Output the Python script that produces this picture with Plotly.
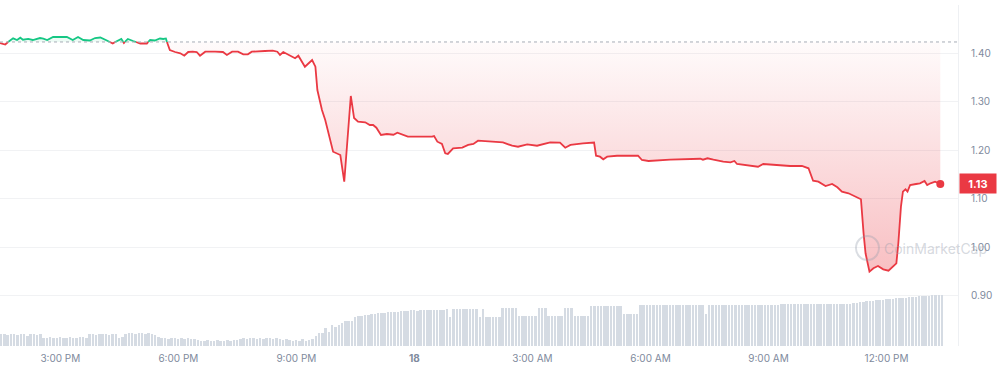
import plotly.graph_objects as go
import pandas as pd

# ---------------- data ----------------
open_price = 1.4238

price_times = [
    "2024-03-17 13:28", "2024-03-17 13:36", "2024-03-17 13:42", "2024-03-17 13:48", "2024-03-17 13:54",
    "2024-03-17 13:59", "2024-03-17 14:03", "2024-03-17 14:11", "2024-03-17 14:18", "2024-03-17 14:29",
    "2024-03-17 14:34", "2024-03-17 14:40", "2024-03-17 14:49", "2024-03-17 15:00", "2024-03-17 15:10",
    "2024-03-17 15:19", "2024-03-17 15:27", "2024-03-17 15:35", "2024-03-17 15:45", "2024-03-17 15:53",
    "2024-03-17 16:01", "2024-03-17 16:11", "2024-03-17 16:20", "2024-03-17 16:26", "2024-03-17 16:33",
    "2024-03-17 16:37", "2024-03-17 16:43", "2024-03-17 16:51", "2024-03-17 17:02", "2024-03-17 17:12",
    "2024-03-17 17:17", "2024-03-17 17:24", "2024-03-17 17:32", "2024-03-17 17:37", "2024-03-17 17:41",
    "2024-03-17 17:44", "2024-03-17 17:47", "2024-03-17 17:55", "2024-03-17 18:03", "2024-03-17 18:09",
    "2024-03-17 18:15", "2024-03-17 18:22", "2024-03-17 18:28", "2024-03-17 18:33", "2024-03-17 18:41",
    "2024-03-17 18:56", "2024-03-17 19:08", "2024-03-17 19:14", "2024-03-17 19:22", "2024-03-17 19:31",
    "2024-03-17 19:39", "2024-03-17 19:46", "2024-03-17 19:52", "2024-03-17 20:12", "2024-03-17 20:24",
    "2024-03-17 20:31", "2024-03-17 20:35", "2024-03-17 20:40", "2024-03-17 20:50", "2024-03-17 20:58",
    "2024-03-17 21:03", "2024-03-17 21:09", "2024-03-17 21:13", "2024-03-17 21:24", "2024-03-17 21:29",
    "2024-03-17 21:32", "2024-03-17 21:39", "2024-03-17 21:44", "2024-03-17 21:56", "2024-03-17 22:07",
    "2024-03-17 22:13", "2024-03-17 22:23", "2024-03-17 22:28", "2024-03-17 22:34", "2024-03-17 22:45",
    "2024-03-17 22:52", "2024-03-17 22:57", "2024-03-17 23:02", "2024-03-17 23:09", "2024-03-17 23:18",
    "2024-03-17 23:28", "2024-03-17 23:34", "2024-03-17 23:41", "2024-03-17 23:50",
    "2024-03-18 00:27", "2024-03-18 00:30", "2024-03-18 00:35", "2024-03-18 00:42", "2024-03-18 00:47",
    "2024-03-18 00:51", "2024-03-18 00:59", "2024-03-18 01:13", "2024-03-18 01:22", "2024-03-18 01:30",
    "2024-03-18 01:37", "2024-03-18 01:56", "2024-03-18 02:15", "2024-03-18 02:29", "2024-03-18 02:38",
    "2024-03-18 02:52", "2024-03-18 03:07", "2024-03-18 03:27", "2024-03-18 03:42", "2024-03-18 03:50",
    "2024-03-18 03:58", "2024-03-18 04:17", "2024-03-18 04:31", "2024-03-18 04:34", "2024-03-18 04:37",
    "2024-03-18 04:43", "2024-03-18 04:48", "2024-03-18 04:54", "2024-03-18 05:09", "2024-03-18 05:41",
    "2024-03-18 05:47", "2024-03-18 05:57", "2024-03-18 06:30", "2024-03-18 07:16", "2024-03-18 07:20",
    "2024-03-18 07:27", "2024-03-18 07:36", "2024-03-18 07:51", "2024-03-18 08:02", "2024-03-18 08:08",
    "2024-03-18 08:12", "2024-03-18 08:28", "2024-03-18 08:44", "2024-03-18 08:52", "2024-03-18 09:18",
    "2024-03-18 09:33", "2024-03-18 09:51", "2024-03-18 10:01", "2024-03-18 10:08", "2024-03-18 10:16",
    "2024-03-18 10:27", "2024-03-18 10:37", "2024-03-18 10:45", "2024-03-18 10:52", "2024-03-18 11:02",
    "2024-03-18 11:12", "2024-03-18 11:21", "2024-03-18 11:25", "2024-03-18 11:28", "2024-03-18 11:34",
    "2024-03-18 11:40", "2024-03-18 11:47", "2024-03-18 11:55", "2024-03-18 12:03", "2024-03-18 12:09",
    "2024-03-18 12:15", "2024-03-18 12:18", "2024-03-18 12:22", "2024-03-18 12:25", "2024-03-18 12:29",
    "2024-03-18 12:32", "2024-03-18 12:36", "2024-03-18 12:45", "2024-03-18 12:51", "2024-03-18 12:58",
    "2024-03-18 13:02", "2024-03-18 13:07", "2024-03-18 13:14", "2024-03-18 13:22",
]

prices = [
    1.4217, 1.4186, 1.4258, 1.4314, 1.4279,
    1.4326, 1.4285, 1.4300, 1.4279, 1.4320,
    1.4306, 1.4279, 1.4341, 1.4347, 1.4341,
    1.4279, 1.4341, 1.4279, 1.4269, 1.4320,
    1.4331, 1.4269, 1.4207, 1.4258, 1.4300,
    1.4217, 1.4300, 1.4258, 1.4207, 1.4207,
    1.4279, 1.4269, 1.4310, 1.4300, 1.4310,
    1.4176, 1.4072, 1.4031, 1.4004, 1.3955,
    1.4031, 1.4037, 1.4031, 1.3955, 1.4037,
    1.4037, 1.4031, 1.3969, 1.4037, 1.4037,
    1.3983, 1.3983, 1.4037, 1.4052, 1.4058,
    1.4037, 1.3969, 1.4031, 1.3959, 1.3901,
    1.3955, 1.3804, 1.3727, 1.3866, 1.3727,
    1.3246, 1.2833, 1.2626, 1.1971, 1.1903,
    1.1351, 1.3122, 1.2667, 1.2591, 1.2579,
    1.2523, 1.2523, 1.2467, 1.2316, 1.2337,
    1.2322, 1.2364, 1.2331, 1.2281,
    1.2281, 1.2295, 1.2178, 1.2130, 1.1938,
    1.1924, 1.2041, 1.2054, 1.2110, 1.2130,
    1.2198, 1.2178, 1.2165, 1.2095, 1.2074,
    1.2124, 1.2095, 1.2165, 1.2157, 1.2054,
    1.2110, 1.2145, 1.2157, 1.2161, 1.1888,
    1.1868, 1.1814, 1.1868, 1.1888, 1.1888,
    1.1800, 1.1779, 1.1806, 1.1826, 1.1806,
    1.1835, 1.1806, 1.1764, 1.1752, 1.1779,
    1.1717, 1.1696, 1.1661, 1.1717, 1.1690,
    1.1676, 1.1676, 1.1628, 1.1372, 1.1351,
    1.1262, 1.1304, 1.1236, 1.1145, 1.1112,
    1.1041, 1.0988, 1.0285, 0.9872, 0.9492,
    0.9562, 0.9610, 0.9541, 0.9512, 0.9595,
    0.9665, 1.0079, 1.0835, 1.1145, 1.1194,
    1.1149, 1.1283, 1.1304, 1.1318, 1.1366,
    1.1283, 1.1318, 1.1351, 1.1304,
]

# volume, one bar every 5 minutes starting 13:30 (arbitrary units)
volume_start = "2024-03-17 13:30"
volumes = [
    12, 12, 11, 12, 12, 11, 12, 12, 10, 12, 12, 11, 12,
    8, 8, 9, 8, 8, 9, 8, 8, 9, 8, 8, 9, 9, 8,
    12, 12, 11, 12, 12, 12, 11, 12, 12,
    8, 9,
    12, 13, 13, 12, 13, 13, 12, 13, 12, 11,
    9, 8, 8, 7, 8, 8, 7, 8, 7, 8, 7, 7,
    6, 5, 5, 6, 5, 5, 6, 5, 5, 6, 5, 6, 6,
    7, 8, 7, 8, 8, 7, 8, 7, 8, 8, 7, 8, 7, 6, 7, 6,
    5, 6, 5, 7, 5, 6, 7,
    10, 13, 13, 18, 14, 21, 19, 21, 23, 25, 25, 25, 29, 30, 30, 31,
    31, 32, 32, 33, 33, 33, 34, 34, 34, 34,
    35, 35, 35, 36, 36, 35, 36, 36, 36, 36, 36, 36, 36, 36, 37, 29,
    37, 37, 37, 37, 37, 37, 37, 37,
    29, 37,
    29, 29, 29, 29, 29,
    38, 38, 38, 38, 38,
    30, 30, 30, 30, 30, 30,
    38, 38, 38,
    30, 30, 30, 30, 30,
    38, 38, 38,
    30, 30, 30, 30, 30,
    40, 40, 40, 40, 40, 40, 40, 40, 40, 40,
    32, 32, 32, 32, 32,
    41, 41, 41, 41, 41, 41, 41, 41, 41, 41, 41, 41, 41, 41, 41, 41, 41, 41, 41, 41,
    32,
    41, 41, 41, 41, 41, 41, 41, 41, 41, 41, 41, 41, 41, 41, 41, 41, 41, 41, 41, 41, 41, 41,
    42, 42, 42, 42, 42, 42, 42, 42, 42, 42, 42, 42, 42, 42, 42, 42, 42, 42, 42, 42, 42, 42,
    43, 43, 44, 44, 45, 45, 45, 46, 46, 46, 47, 47, 47, 48, 48, 48, 48, 49, 49, 49,
    50, 50, 50, 50, 51, 51, 51, 51,
]

tick_times = ["2024-03-17 15:00", "2024-03-17 18:00", "2024-03-17 21:00", "2024-03-18 00:00",
              "2024-03-18 03:00", "2024-03-18 06:00", "2024-03-18 09:00", "2024-03-18 12:00"]
tick_labels = ["3:00 PM", "6:00 PM", "9:00 PM", "<b>18</b>", "3:00 AM", "6:00 AM", "9:00 AM", "12:00 PM"]
price_ticks = [0.90, 1.00, 1.10, 1.20, 1.30, 1.40]

x_range = ["2024-03-17 13:28", "2024-03-18 13:49"]

RED = "#ea3943"
GREEN = "#16c784"

# ---------------- build ----------------
t = pd.to_datetime(price_times)
vol_t = pd.date_range(volume_start, periods=len(volumes), freq="5min")

# insert the crossing points of the open-price baseline so colours switch cleanly
aug_t, aug_p = [], []
for i in range(len(prices)):
    if i > 0 and (prices[i - 1] - open_price) * (prices[i] - open_price) < 0:
        f = (open_price - prices[i - 1]) / (prices[i] - prices[i - 1])
        aug_t.append(t[i - 1] + (t[i] - t[i - 1]) * f)
        aug_p.append(open_price)
    aug_t.append(t[i])
    aug_p.append(prices[i])

red_y = [v if v <= open_price else None for v in aug_p]
green_y = [v if v >= open_price else None for v in aug_p]
below = [min(v, open_price) for v in aug_p]
above = [max(v, open_price) for v in aug_p]
base = [open_price] * len(aug_p)

fig = go.Figure()

fig.add_trace(go.Bar(x=vol_t, y=volumes, yaxis="y2", marker_color="#d5dbe3",
                     marker_line_width=0, width=180000, hoverinfo="skip"))

fig.add_trace(go.Scatter(x=aug_t, y=base, mode="lines", line=dict(width=0), hoverinfo="skip"))
fig.add_trace(go.Scatter(x=aug_t, y=below, mode="lines", line=dict(width=0), fill="tonexty",
                         fillgradient=dict(type="vertical",
                                           colorscale=[[0, "rgba(234,57,67,0.32)"],
                                                       [1, "rgba(234,57,67,0.02)"]]),
                         hoverinfo="skip"))
fig.add_trace(go.Scatter(x=aug_t, y=base, mode="lines", line=dict(width=0), hoverinfo="skip"))
fig.add_trace(go.Scatter(x=aug_t, y=above, mode="lines", line=dict(width=0), fill="tonexty",
                         fillcolor="rgba(22,199,132,0.08)", hoverinfo="skip"))

fig.add_trace(go.Scatter(x=aug_t, y=red_y, mode="lines", line=dict(color=RED, width=1.8),
                         connectgaps=False))
fig.add_trace(go.Scatter(x=aug_t, y=green_y, mode="lines", line=dict(color=GREEN, width=1.8),
                         connectgaps=False))
fig.add_trace(go.Scatter(x=[t[-1]], y=[prices[-1]], mode="markers",
                         marker=dict(color=RED, size=8)))

fig.add_shape(type="line", xref="paper", x0=0, x1=1, yref="y", y0=open_price, y1=open_price,
              line=dict(color="#a6acb6", width=1, dash="dot"))

# watermark
fig.add_shape(type="circle", xref="paper", yref="paper", x0=0.8935, x1=0.9175, y0=0.252, y1=0.3226,
              line=dict(color="rgba(150,158,172,0.35)", width=2))
fig.add_annotation(xref="paper", yref="paper", x=0.921, xanchor="left", y=0.287, yanchor="middle",
                   text="CoinMarketCap", showarrow=False,
                   font=dict(family="Inter", size=14, color="rgba(150,158,172,0.4)"))

# last-price label
fig.add_annotation(xref="paper", yref="y", x=1, xanchor="left", xshift=1, y=prices[-1],
                   text="<b>%.2f</b>" % prices[-1], showarrow=False, bgcolor=RED,
                   font=dict(family="Inter", size=11, color="white"), width=34, height=17)

fig.update_layout(
    width=998, height=371,
    margin=dict(l=0, r=40, t=5, b=25),
    paper_bgcolor="white", plot_bgcolor="white",
    showlegend=False,
    bargap=0,
    font=dict(family="Inter", color="#808a9d", size=10),
    xaxis=dict(type="date", range=x_range, tickvals=tick_times, ticktext=tick_labels,
               showgrid=False, zeroline=False, showline=False, ticks="",
               tickfont=dict(size=10, color="#808a9d"), ticklabelstandoff=5),
    yaxis=dict(side="right", range=[0.7957, 1.5002], tickvals=price_ticks,
               tickformat=".2f", showgrid=True, gridcolor="#f1f2f4", zeroline=False,
               showline=True, linecolor="#eef0f3", ticks="", ticklabelstandoff=10,
               tickfont=dict(size=10, color="#808a9d")),
    yaxis2=dict(overlaying="y", range=[0, 341], visible=False, showgrid=False),
)

fig.write_html("out.html")
